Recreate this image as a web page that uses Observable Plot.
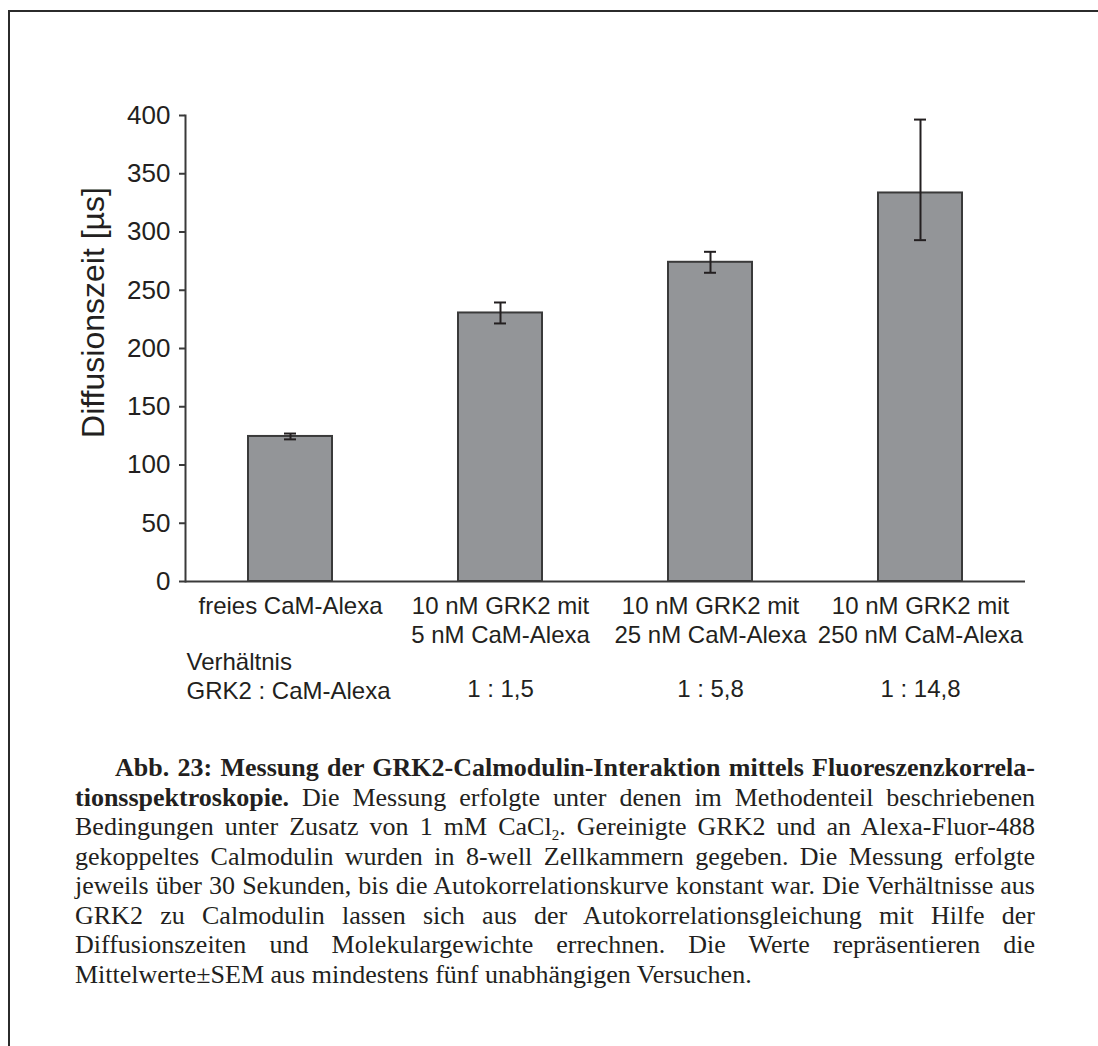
<!DOCTYPE html>
<html>
<head>
<meta charset="utf-8">
<script src="https://cdn.jsdelivr.net/npm/d3@7"></script>
<script src="https://cdn.jsdelivr.net/npm/@observablehq/plot@0.6"></script>
<style>
  html, body { margin: 0; padding: 0; background: #fff; }
  body { width: 1098px; height: 1046px; position: relative; overflow: hidden; }
  #frame { position: absolute; left: 8px; top: 10px; width: 1200px; height: 1200px;
           border-left: 2px solid #2b2b2b; border-top: 2px solid #2b2b2b; }
  #chart { position: absolute; left: 0; top: 0; }
  #caption { position: absolute; left: 75px; top: 753px; width: 960px;
             font-family: "Liberation Serif", "Times New Roman", serif; font-size: 26px;
             line-height: 29.5px; color: #231f20; }
  #caption .l { display: block; text-align: justify; text-align-last: justify; white-space: nowrap; }
  #caption .last { text-align: left; text-align-last: left; }
  #caption b { font-weight: bold; }
  #caption sub { font-size: 15px; vertical-align: -5px; line-height: 0; }
</style>
</head>
<body>
<div id="frame"></div>
<div id="chart"></div>
<div id="caption">
  <span class="l" style="text-indent:40px"><b>Abb. 23: Messung der GRK2-Calmodulin-Interaktion mittels Fluoreszenzkorrela-</b></span>
  <span class="l"><b>tionsspektroskopie.</b> Die Messung erfolgte unter denen im Methodenteil beschriebenen</span>
  <span class="l">Bedingungen unter Zusatz von 1 mM CaCl<sub>2</sub>. Gereinigte GRK2 und an Alexa-Fluor-488</span>
  <span class="l">gekoppeltes Calmodulin wurden in 8-well Zellkammern gegeben. Die Messung erfolgte</span>
  <span class="l">jeweils über 30 Sekunden, bis die Autokorrelationskurve konstant war. Die Verhältnisse aus</span>
  <span class="l">GRK2 zu Calmodulin lassen sich aus der Autokorrelationsgleichung mit Hilfe der</span>
  <span class="l">Diffusionszeiten und Molekulargewichte errechnen. Die Werte repräsentieren die</span>
  <span class="l last">Mittelwerte±SEM aus mindestens fünf unabhängigen Versuchen.</span>
</div>
<script>
const categories = [
  "freies CaM-Alexa",
  "10 nM GRK2 mit\n5 nM CaM-Alexa",
  "10 nM GRK2 mit\n25 nM CaM-Alexa",
  "10 nM GRK2 mit\n250 nM CaM-Alexa"
];
const means = [124.5, 230.5, 274, 333.5];
const errLow = [2.5, 9, 9, 40.5];
const errHigh = [2.5, 9, 9, 63];
const ratios = ["", "1 : 1,5", "1 : 5,8", "1 : 14,8"];
const ratioLabel = "Verhältnis\nGRK2 : CaM-Alexa";
const yTicks = [0, 50, 100, 150, 200, 250, 300, 350, 400];
const yLabel = "Diffusionszeit [µs]";

const data = categories.map((c, i) => ({cat: c, mean: means[i], lo: means[i] - errLow[i], hi: means[i] + errHigh[i], ratio: ratios[i]}));

const ink = "#231f20";
const chart = Plot.plot({
  width: 1098,
  height: 720,
  marginLeft: 185,
  marginRight: 73,
  marginTop: 115,
  marginBottom: 139,
  style: {fontFamily: "Arial, 'Liberation Sans', sans-serif", color: ink, background: "transparent"},
  x: {domain: categories, paddingInner: 0.6, paddingOuter: 0.3, label: null},
  y: {domain: [0, 400], label: null},
  marks: [
    Plot.barY(data, {x: "cat", y: "mean", fill: "#939598", stroke: "#3a3a3a", strokeWidth: 2}),
    Plot.ruleX(data, {x: "cat", y1: "lo", y2: "hi", stroke: ink, strokeWidth: 2}),
    Plot.tickY(data, {x: "cat", y: "lo", stroke: ink, strokeWidth: 2, insetLeft: 36, insetRight: 36}),
    Plot.tickY(data, {x: "cat", y: "hi", stroke: ink, strokeWidth: 2, insetLeft: 36, insetRight: 36}),
    Plot.ruleY([0], {stroke: "#3a3a3a", strokeWidth: 2}),
    Plot.frame({anchor: "left", stroke: "#3a3a3a", strokeWidth: 2}),
    Plot.axisY({ticks: yTicks, tickSize: 6, tickPadding: 9, fontSize: 26, stroke: "#3a3a3a", strokeWidth: 2, fill: ink, label: null}),
    Plot.axisX({tickSize: 0, tickPadding: 12, fontSize: 24, lineHeight: 1.2, fill: ink, label: null}),
    Plot.text(data, {x: "cat", text: "ratio", frameAnchor: "bottom", dy: 115, fontSize: 24, fill: ink}),
    Plot.text([ratioLabel], {frameAnchor: "bottom-left", text: d => d, textAnchor: "start", dx: 1, dy: 117, fontSize: 24, lineHeight: 1.2, fill: ink}),
    Plot.text([yLabel], {frameAnchor: "left", text: d => d, textAnchor: "middle", rotate: -90, dx: -92, dy: -36, fontSize: 32, fill: ink})
  ]
});
document.getElementById("chart").appendChild(chart);
</script>
</body>
</html>
